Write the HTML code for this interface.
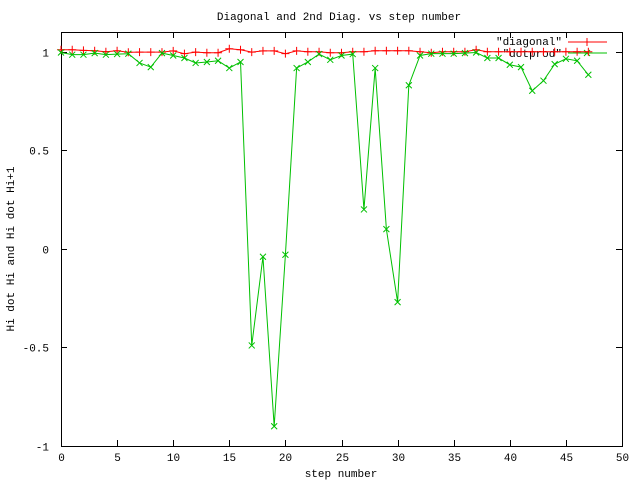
<!DOCTYPE html>
<html><head><meta charset="utf-8"><style>
body{margin:0;background:#fff}
svg text{font-family:"Liberation Mono","DejaVu Sans Mono",monospace;font-size:11px;fill:#000}
</style></head><body>
<svg id="chart" width="640" height="480" xmlns="http://www.w3.org/2000/svg">
<rect x="0" y="0" width="640" height="480" fill="#fff"/>
<g id="axes"></g>
<g id="series"></g>
</svg>
<script>
const xTicks=[0,5,10,15,20,25,30,35,40,45,50];
const yTicks=[-1,-0.5,0,0.5,1];
const yTickLabels=["-1","-0.5","0","0.5","1"];
const diagonal=[1.01,1.01,1.007,1.005,1.0,1.005,0.997,0.998,0.998,0.998,1.004,0.99,0.998,0.995,0.995,1.015,1.01,0.998,1.004,1.004,0.99,1.004,1.0,1.0,0.995,0.995,1.0,1.0,1.005,1.005,1.005,1.005,1.0,0.995,1.0,1.0,1.0,1.01,1.0,1.0,1.0,1.0,1.0,1.0,1.0,1.0,1.0,1.0];
const dotprod=[0.996,0.985,0.985,0.993,0.985,0.988,0.99,0.943,0.922,0.993,0.981,0.968,0.943,0.948,0.954,0.917,0.948,-0.49,-0.04,-0.9,-0.03,0.917,0.948,0.988,0.959,0.981,0.988,0.2,0.917,0.1,-0.27,0.83,0.981,0.99,0.99,0.99,0.993,0.996,0.968,0.968,0.934,0.922,0.802,0.853,0.937,0.964,0.954,0.883];
const X0=61,X1=622,Y0=446,Y1=32;
const YMIN=-1,YMAX=1.1;
const sx=v=>X0+(v-0)/50*(X1-X0);
const sy=v=>Y0-(v-YMIN)/(YMAX-YMIN)*(Y0-Y1);
const NS="http://www.w3.org/2000/svg";
function mk(t,a,p){const e=document.createElementNS(NS,t);for(const k in a)e.setAttribute(k,a[k]);p.appendChild(e);return e;}
const ax=document.getElementById('axes'),sr=document.getElementById('series');
const frame=mk('rect',{x:X0+0.5,y:Y1+0.5,width:X1-X0,height:Y0-Y1,fill:'none',stroke:'#000','stroke-width':1},ax);


xTicks.forEach(v=>{const x=Math.round(sx(v))+0.5;
mk('line',{x1:x,x2:x,y1:Y0,y2:Y0-6,stroke:'#000'},ax);mk('line',{x1:x,x2:x,y1:Y1,y2:Y1+6,stroke:'#000'},ax);
const t=mk('text',{x:x,y:Y0+15,'text-anchor':'middle'},ax);t.textContent=v;

});
yTicks.forEach((v,i)=>{const y=Math.round(sy(v))+0.5;
mk('line',{x1:X0,x2:X0+6,y1:y,y2:y,stroke:'#000'},ax);mk('line',{x1:X1,x2:X1-6,y1:y,y2:y,stroke:'#000'},ax);
const t=mk('text',{x:X0-12,y:y+4,'text-anchor':'end'},ax);t.textContent=yTickLabels[i];

});
let t=mk('text',{x:339,y:20,'text-anchor':'middle'},ax);t.textContent='Diagonal and 2nd Diag. vs step number';


t=mk('text',{x:341,y:477,'text-anchor':'middle'},ax);t.textContent='step number';


t=mk('text',{x:14,y:249,'text-anchor':'middle',transform:'rotate(-90 14 249)'},ax);t.textContent='Hi dot Hi and Hi dot Hi+1';


function plus(x,y,c,g){mk('path',{d:`M${x-4} ${y}h8M${x} ${y-4}v8`,stroke:c,fill:'none'},g);}
function cross(x,y,c,g){mk('path',{d:`M${x-3} ${y-3}l6 6M${x-3} ${y+3}l6 -6`,stroke:c,fill:'none'},g);}
function series(vals,c,mark,name){
const g=mk('g',{},sr);


mk('polyline',{points:vals.map((v,i)=>sx(i)+','+sy(v)).join(' '),fill:'none',stroke:c,'stroke-width':1},g);
vals.forEach((v,i)=>mark(sx(i),sy(v),c,g));}
series(diagonal,'#ff0000',plus,'diagonal-series');
series(dotprod,'#00c000',cross,'dotprod-series');
const lg=mk('g',{},ax);


t=mk('text',{x:562,y:45,'text-anchor':'end'},lg);t.textContent='"diagonal"';
mk('line',{x1:568,x2:607,y1:42,y2:42,stroke:'#ff0000'},lg);plus(587,42,'#ff0000',lg);
t=mk('text',{x:562,y:57,'text-anchor':'end'},lg);t.textContent='"dotprod"';
mk('line',{x1:568,x2:607,y1:53,y2:53,stroke:'#00c000'},lg);cross(587,53,'#00c000',lg);
</script>
</body></html>
